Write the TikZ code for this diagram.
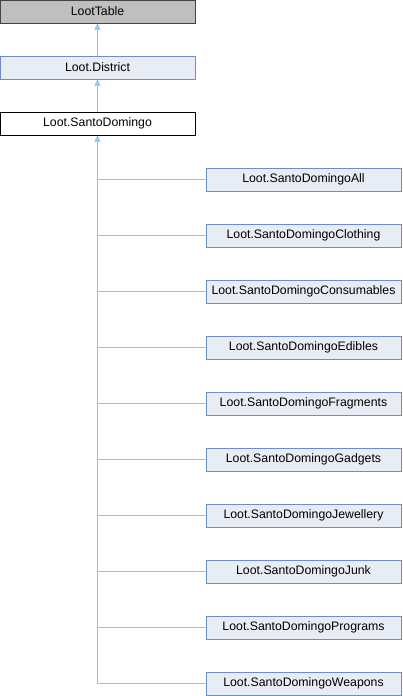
\documentclass[tikz,border=0pt]{standalone}
\usepackage{fontspec}
\setmainfont{Liberation Sans}
\usetikzlibrary{arrows.meta}
\definecolor{edgec}{HTML}{8CC3E8}
\definecolor{boxfill}{HTML}{E8ECF5}
\definecolor{boxdraw}{HTML}{6E8CC8}
\definecolor{rootfill}{HTML}{BFBFBF}
\definecolor{rootdraw}{HTML}{444444}
\tikzset{
  x=1pt, y=-1pt,
  cls/.style={draw=boxdraw, fill=boxfill, line width=1pt, minimum width=195pt, minimum height=23pt, inner sep=0pt, font=\fontsize{12.3}{14}\selectfont},
  rootcls/.style={cls, draw=rootdraw, fill=rootfill},
  curcls/.style={cls, draw=black, fill=white},
  link/.style={draw=edgec, line width=1pt},
  inh/.style={link, -{Triangle[width=6pt,length=6pt,fill=edgec!70!white]}},
}
\begin{document}
\begin{tikzpicture}
\useasboundingbox (0,0) rectangle (402,696);
\node[rootcls] (lt) at (97.5,11.5) {LootTable};
\node[cls] (dist) at (97.5,67.5) {Loot.District};
\node[curcls] (sd) at (97.5,123.5) {Loot.SantoDomingo};
\foreach \n/\t [count=\i] in {all/All,clo/Clothing,con/Consumables,edi/Edibles,fra/Fragments,gad/Gadgets,jew/Jewellery,jun/Junk,pro/Programs,wea/Weapons}{
  \node[cls] (\n) at (303.5,{123.5+56*\i}) {Loot.SantoDomingo\t};
}
\draw[inh] (dist) -- (lt);
\draw[inh] (sd) -- (dist);
\foreach \n in {all,clo,con,edi,fra,gad,jew,jun,pro}{
  \draw[link] (\n.west) -| (sd.south);
}
\draw[inh] (wea.west) -| (sd.south);
\end{tikzpicture}
\end{document}
